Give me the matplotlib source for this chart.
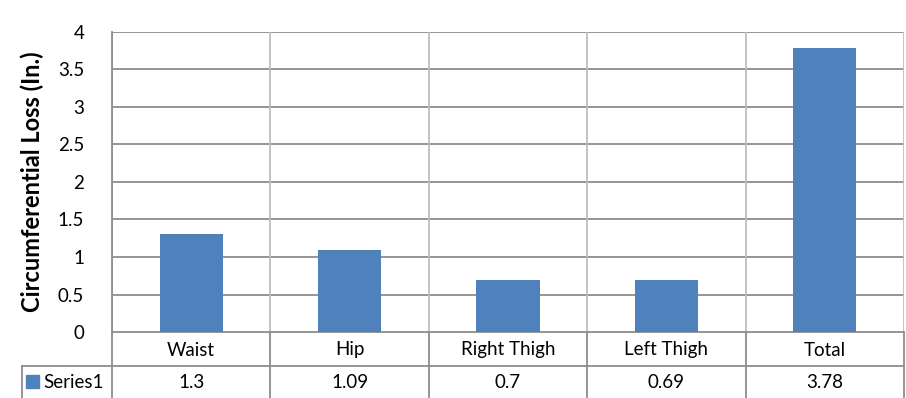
import matplotlib
matplotlib.use("Agg")
import matplotlib.pyplot as plt
from matplotlib.patches import Rectangle

plt.rcParams["font.family"] = ["Lato", "DejaVu Sans"]

# circumferential loss per measurement site
categories = ["Waist", "Hip", "Right Thigh", "Left Thigh", "Total"]
loss = [1.3, 1.09, 0.7, 0.69, 3.78]
value_labels = ["1.3", "1.09", "0.7", "0.69", "3.78"]
series_name = "Series1"
yticks = [0, 0.5, 1, 1.5, 2, 2.5, 3, 3.5, 4]
ytick_labels = ["0", "0.5", "1", "1.5", "2", "2.5", "3", "3.5", "4"]

BAR = "#4F81BD"
HGRID = "#8C8C8C"
VGRID = "#BEBEBE"
BORDER = "#8C8C8C"
FS = 13.5

W, H = 906, 398
fig = plt.figure(figsize=(W / 100, H / 100), dpi=100)

# plot area in pixels: left 112, right 904, top 32, bottom 332
L, R, T, B = 112, 904, 32, 332
ax = fig.add_axes([L / W, 1 - B / H, (R - L) / W, (B - T) / H])
n = len(categories)
x = list(range(n))
ax.bar(x, loss, width=0.4, color=BAR, zorder=3)
ax.set_xlim(-0.5, n - 0.5)
ax.set_ylim(0, 4)
ax.set_yticks(yticks)
ax.set_yticklabels(ytick_labels, fontsize=FS)
ax.set_xticks([])
for yv in yticks:
    ax.axhline(yv, color=HGRID, lw=1.3, zorder=1)
for i in range(n + 1):
    ax.axvline(i - 0.5, color=VGRID, lw=1.3, zorder=1)
for s in ax.spines.values():
    s.set_visible(False)
ax.spines["left"].set_visible(True)
ax.spines["left"].set_color(HGRID)
ax.spines["left"].set_linewidth(1.3)
ax.tick_params(axis="y", length=0, pad=20)
ax.set_ylabel("Circumferential Loss (In.)", fontsize=17, fontweight="bold",
              labelpad=10)

# data table below the plot area, sharing the category positions
tb = fig.add_axes([L / W, 0, (R - L) / W, (H - B) / H])
tb.set_xlim(-0.5, n - 0.5)
tb.set_ylim(H - B, 0)
tb.axis("off")
row1, row2 = 34, 66
for i in range(n + 1):
    tb.plot([i - 0.5, i - 0.5], [0, row2], color=BORDER, lw=1.3, clip_on=False)
tb.plot([-0.5, n - 0.5], [0, 0], color=BORDER, lw=1.3)
tb.plot([-0.5 - 90 / 158.4, n - 0.5], [row1, row1], color=BORDER, lw=1.3,
        clip_on=False)
tb.plot([-0.5 - 90 / 158.4] * 2, [row1, row2], color=BORDER, lw=1.3,
        clip_on=False)
for i, (c, v) in enumerate(zip(categories, value_labels)):
    tb.text(i, row1 / 2 + 1, c, ha="center", va="center", fontsize=FS)
    tb.text(i, (row1 + row2) / 2 + 1, v, ha="center", va="center", fontsize=FS)
# legend key in the series cell
kx = -0.5 - 86 / 158.4
tb.add_patch(Rectangle((kx, 43), 13 / 158.4, 13, color=BAR, clip_on=False))
tb.text(kx + 17 / 158.4, (row1 + row2) / 2 + 1, series_name, ha="left",
        va="center", fontsize=FS, clip_on=False)

fig.savefig("out.png", dpi=100)
